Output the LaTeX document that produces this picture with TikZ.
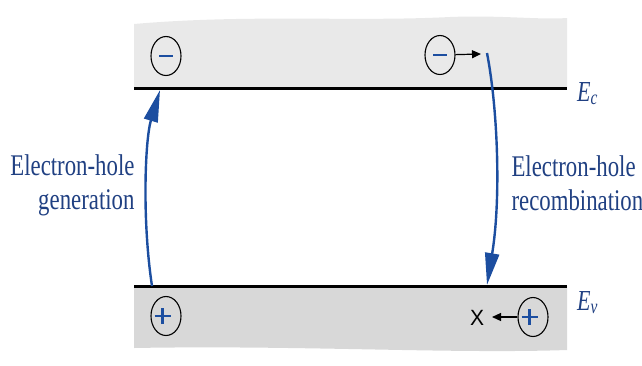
\documentclass[tikz,border=0pt]{standalone}
\usepackage{fontspec}
\setmainfont{Liberation Serif}
\setsansfont{Liberation Sans}
\usetikzlibrary{arrows.meta,shapes.geometric}
\definecolor{bandtop}{RGB}{233,233,233}
\definecolor{bandbot}{RGB}{216,216,216}
\definecolor{carrier}{RGB}{28,78,160}
\definecolor{textblue}{RGB}{32,64,130}

\tikzset{
  chargebox/.style={ellipse, draw=black, line width=1.1pt, minimum width=30pt,
    minimum height=39pt, inner sep=0pt, text=carrier},
  bandedge/.style={line width=3pt},
  transition/.style={-{Triangle[length=32pt,width=14pt]}, line width=2.4pt, color=carrier},
  drift/.style={-{Triangle[length=9pt,width=8pt]}, line width=1.2pt},
  caption/.style={font=\rmfamily\fontsize{30}{34}\selectfont, text=textblue},
  level/.style={font=\rmfamily\fontsize{29}{29}\selectfont\itshape, text=textblue},
}
\newcommand{\squeeze}[1]{\scalebox{0.76}[1]{#1}}
\newcommand{\minussign}{\rule[0pt]{14pt}{2.6pt}}
\newcommand{\plussign}{\rule[-6pt]{2.2pt}{16pt}\hspace{-9.1pt}\rule[0.8pt]{16pt}{2.2pt}}

\begin{document}
\begin{tikzpicture}[x=1pt,y=-1pt]
  \useasboundingbox (0,0) rectangle (642,365);
  % conduction and valence bands
  \fill[bandtop] (134,88) -- (134,24) .. controls (250,14) and (350,22) .. (450,17)
    .. controls (500,15) and (540,20) .. (567,18) -- (567,88) -- cycle;
  \fill[bandbot] (134,286) -- (567,286) -- (567,350) .. controls (450,354) and (300,345) .. (134,348) -- cycle;
  \draw[bandedge] (134,88) -- (567,88);
  \draw[bandedge] (134,286) -- (567,286);
  \node[level, anchor=base west, inner sep=0pt] (Ec) at (577,101) {\squeeze{E\textsubscript{c}}};
  \node[level, anchor=base west, inner sep=0pt] (Ev) at (577,310) {\squeeze{E\textsubscript{v}}};

  % carriers
  \node[chargebox] (eTopL) at (166,56) {\minussign};
  \node[chargebox] (eTopR) at (440,55) {\minussign};
  \node[chargebox] (hBotL) at (166,316) {\plussign};
  \node[chargebox] (hBotR) at (533,317) {\plussign};
  \node[font=\sffamily\fontsize{21}{21}\selectfont] (trap) at (477,318) {\scalebox{1}[1.05]{X}};
  \coordinate (eDrift) at (481,54);
  \coordinate (hDrift) at (492,317);
  \draw[drift] (eTopR) -- (eDrift);
  \draw[drift] (hBotR) -- (hDrift);

  % transitions
  \coordinate (genS) at (152,286);
  \coordinate (genE) at (160,90);
  \coordinate (recS) at (487,53);
  \coordinate (recE) at (487,285);
  \draw[transition] (genS) .. controls (142,220) and (145,140) .. (genE);
  \draw[transition] (recS) .. controls (498,110) and (501,200) .. (recE);
  \node[caption, align=right, anchor=east] (genText) at (138,185)
    {\squeeze{Electron-hole}\\\squeeze{generation}};
  \node[caption, align=left, anchor=west] (recText) at (508,183)
    {\squeeze{Electron-hole}\\\squeeze{recombination}};
\end{tikzpicture}
\end{document}
